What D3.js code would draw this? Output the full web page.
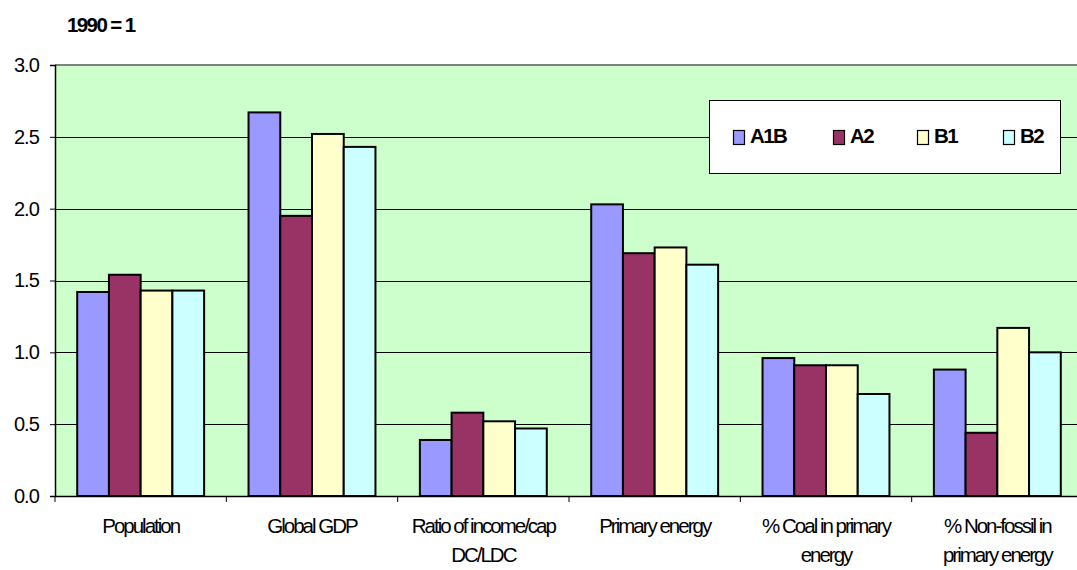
<!DOCTYPE html>
<html>
<head>
<meta charset="utf-8">
<script src="https://cdn.jsdelivr.net/npm/d3@7/dist/d3.min.js"></script>
<style>
  html, body { margin: 0; padding: 0; background: #ffffff; }
  svg { display: block; }
  text { font-family: "Liberation Sans", Arial, sans-serif; fill: #000; }
</style>
</head>
<body>
<svg id="chart" width="1077" height="570"></svg>
<script>
// Scenario indicators for 2100 relative to 1990
const categories = [
  "Population",
  "Global GDP",
  "Ratio of income/cap\nDC/LDC",
  "Primary energy",
  "% Coal in primary\nenergy",
  "% Non-fossil in\nprimary energy"
];
const seriesNames = ["A1B", "A2", "B1", "B2"];
const seriesColors = ["#9999FF", "#993366", "#FFFFCC", "#CCFFFF"];

const valuesA1B = [1.42, 2.67, 0.39, 2.03, 0.96, 0.88];
const valuesA2  = [1.54, 1.95, 0.58, 1.69, 0.91, 0.44];
const valuesB1  = [1.43, 2.52, 0.52, 1.73, 0.91, 1.17];
const valuesB2  = [1.43, 2.43, 0.47, 1.61, 0.71, 1.00];
const seriesValues = [valuesA1B, valuesA2, valuesB1, valuesB2];

const yTicks = [0, 0.5, 1.0, 1.5, 2.0, 2.5, 3.0];
const unitLabel = "1990 = 1";

const svg = d3.select("#chart");
const plot = { left: 55, right: 1083, top: 65, bottom: 496 };

const y = d3.scaleLinear().domain([0, 3]).range([plot.bottom, plot.top]);
const x0 = d3.scaleBand().domain(categories).range([plot.left, plot.right]).padding(0);
const bw = x0.bandwidth();
const groupW = bw / 1.35;               // 35% gap between clusters
const x1 = d3.scaleBand().domain(seriesNames)
  .range([(bw - groupW) / 2, (bw + groupW) / 2]).padding(0);

// plot background
svg.append("rect")
  .attr("x", plot.left).attr("y", plot.top)
  .attr("width", plot.right - plot.left).attr("height", plot.bottom - plot.top)
  .attr("fill", "#CCFFCC");

// horizontal gridlines
svg.append("g").selectAll("line")
  .data(yTicks.filter(d => d > 0 && d < 3))
  .join("line")
  .attr("x1", plot.left).attr("x2", plot.right)
  .attr("y1", d => Math.round(y(d)) + 0.5).attr("y2", d => Math.round(y(d)) + 0.5)
  .attr("stroke", "#000").attr("stroke-width", 1.2);

// plot-area top border
svg.append("line")
  .attr("x1", plot.left).attr("x2", plot.right)
  .attr("y1", plot.top).attr("y2", plot.top)
  .attr("stroke", "#808080").attr("stroke-width", 2);

// bars
const rows = categories.map((c, i) => ({
  cat: c,
  vals: seriesNames.map((s, j) => ({ s, j, v: seriesValues[j][i] }))
}));
svg.append("g").selectAll("g")
  .data(rows)
  .join("g")
  .attr("transform", d => `translate(${x0(d.cat)},0)`)
  .selectAll("rect")
  .data(d => d.vals)
  .join("rect")
  .attr("x", d => x1(d.s))
  .attr("y", d => y(d.v))
  .attr("width", x1.bandwidth())
  .attr("height", d => y(0) - y(d.v))
  .attr("fill", d => seriesColors[d.j])
  .attr("stroke", "#000").attr("stroke-width", 2);

// y axis
const yAxis = svg.append("g")
  .attr("transform", `translate(${plot.left},0)`)
  .call(d3.axisLeft(y).tickValues(yTicks).tickFormat(d3.format(".1f")).tickSize(5).tickPadding(11));
yAxis.select(".domain").attr("stroke", "#000").attr("stroke-width", 1.5);
yAxis.selectAll(".tick line").attr("stroke", "#000");
yAxis.selectAll(".tick text")
  .style("font-family", '"Liberation Sans", Arial, sans-serif')
  .style("font-size", "20px").attr("fill", "#000")
  .style("letter-spacing", "-0.9px");

// x axis baseline and cluster boundary ticks
const xAxis = svg.append("g")
  .attr("transform", `translate(0,${plot.bottom})`)
  .call(d3.axisBottom(x0).tickSize(0).tickFormat(""));
xAxis.select(".domain").attr("stroke", "#000").attr("stroke-width", 1.5);
xAxis.selectAll(".tick").remove();
svg.append("g").selectAll("line")
  .data(categories.map(c => x0(c)))
  .join("line")
  .attr("x1", d => d).attr("x2", d => d)
  .attr("y1", plot.bottom).attr("y2", plot.bottom + 6)
  .attr("stroke", "#000").attr("stroke-width", 1);

// category labels
const catLabels = svg.append("g").selectAll("text")
  .data(categories)
  .join("text")
  .attr("x", d => x0(d) + bw / 2)
  .attr("y", 533)
  .attr("text-anchor", "middle")
  .style("font-size", "20.5px")
  .style("letter-spacing", "-2px");
catLabels.each(function(d) {
  const t = d3.select(this);
  d.split("\n").forEach((line, k) => {
    t.append("tspan")
      .attr("x", x0(d) + bw / 2)
      .attr("dy", k === 0 ? 0 : 29)
      .text(line);
  });
});

// unit label
svg.append("text")
  .attr("x", 67).attr("y", 32)
  .style("font-size", "20.5px").style("font-weight", "bold")
  .style("letter-spacing", "-1.6px")
  .text(unitLabel);

// legend
const legendX = [733, 833, 917, 1003];
const legend = svg.append("g");
legend.append("rect")
  .attr("x", 709.5).attr("y", 100.5).attr("width", 351).attr("height", 73)
  .attr("fill", "#fff").attr("stroke", "#000").attr("stroke-width", 1);
seriesNames.forEach((s, j) => {
  legend.append("rect")
    .attr("x", legendX[j] + 0.5).attr("y", 130.5).attr("width", 11).attr("height", 14)
    .attr("fill", seriesColors[j]).attr("stroke", "#000").attr("stroke-width", 1.2);
  legend.append("text")
    .attr("x", legendX[j] + 17).attr("y", 143)
    .style("font-size", "20.5px").style("font-weight", "bold")
    .style("letter-spacing", "-1.6px")
    .text(s);
});
</script>
</body>
</html>
